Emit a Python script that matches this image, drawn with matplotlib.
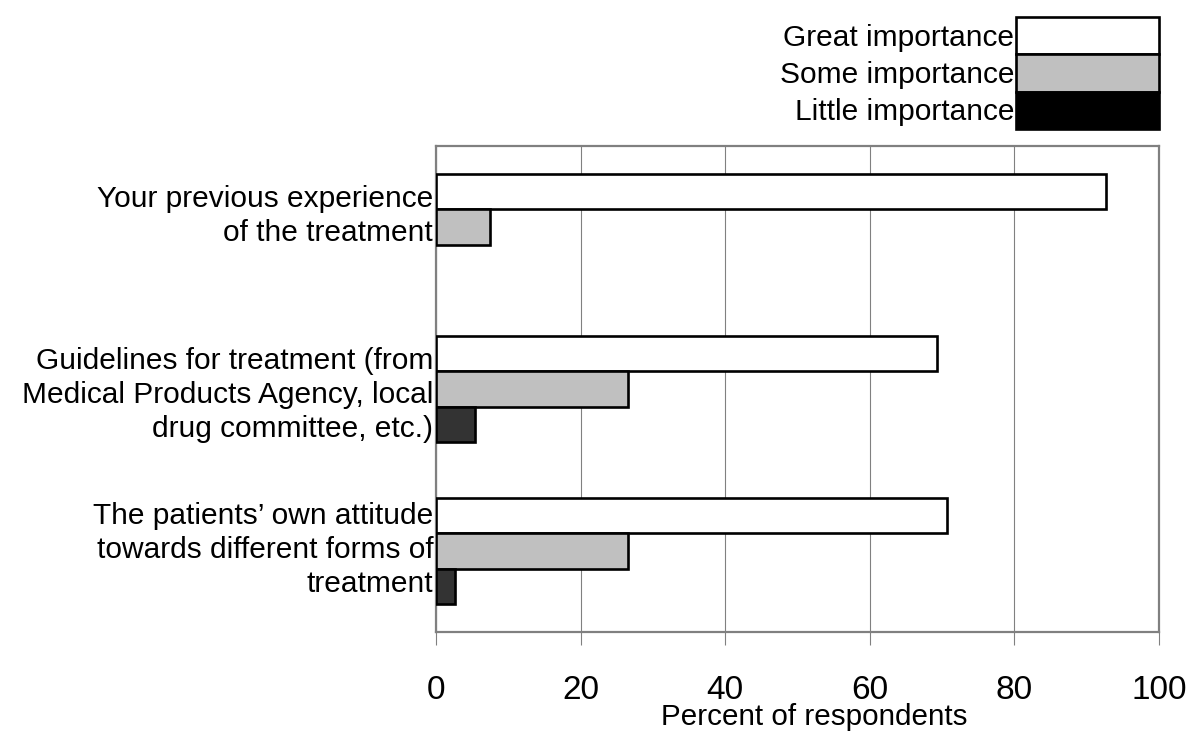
import numpy as np
import matplotlib.pyplot as plt
from matplotlib.transforms import ScaledTranslation

plt.rcParams['font.family'] = ['Liberation Sans', 'DejaVu Sans']

categories = ["Your previous experience\nof the treatment",
              "Guidelines for treatment (from\nMedical Products Agency, local\ndrug committee, etc.)",
              "The patients\u2019 own attitude\ntowards different forms of\ntreatment"]
series = ["Great importance", "Some importance", "Little importance"]
great = [92.7, 69.3, 70.7]
some = [7.5, 26.5, 26.5]
little = [0.0, 5.4, 2.7]
colors = ["white", "#c0c0c0", "#333333"]
legend_colors = ["white", "#c0c0c0", "black"]
xticks = [0, 20, 40, 60, 80, 100]

fig = plt.figure(figsize=(12, 7.47), dpi=100)
ax = fig.add_axes([0.3633, 0.154, 0.6025, 0.6506])

y = np.arange(len(categories))
h = 0.22
for i, (vals, col) in enumerate(zip([great, some, little], colors)):
    lw = [1.9 if v > 0 else 0 for v in vals]
    ax.barh(y + (i - 1) * h, vals, height=h, color=col, edgecolor="black",
            linewidth=lw, zorder=3)

ax.set_xlim(0, 100)
ax.set_ylim(2.5, -0.5)
ax.set_xticks(xticks)
ax.set_yticks(y)
ax.set_yticklabels(categories, fontsize=21.5, ha="right", linespacing=1.28)
ax.tick_params(axis="y", length=0, pad=2)
ax.tick_params(axis="x", length=9, width=0.8, color="#808080", pad=22, labelsize=24)
ax.grid(axis="x", color="#808080", linewidth=0.8, zorder=0)
for s in ax.spines.values():
    s.set_color("#808080")
    s.set_linewidth(1.6)
ax.set_xlabel("Percent of respondents", fontsize=21.3, labelpad=-2)
ax.xaxis.label.set_x(0.523)

# small vertical nudges of the category labels, as in the original
for lab, dy in zip(ax.get_yticklabels(), [17, 0, 7]):
    lab.set_transform(lab.get_transform() + ScaledTranslation(0, dy / 100, fig.dpi_scale_trans))

handles = [plt.Rectangle((0, 0), 1, 1, facecolor=c, edgecolor="black", linewidth=1.9)
           for c in legend_colors]
fig.legend(handles, series, loc="upper right", bbox_to_anchor=(0.966, 0.977),
           frameon=False, markerfirst=False, fontsize=21.5, handlelength=4.78,
           handleheight=1.54, labelspacing=0, handletextpad=0.07,
           borderpad=0, borderaxespad=0)

fig.savefig("out.png", dpi=100)
